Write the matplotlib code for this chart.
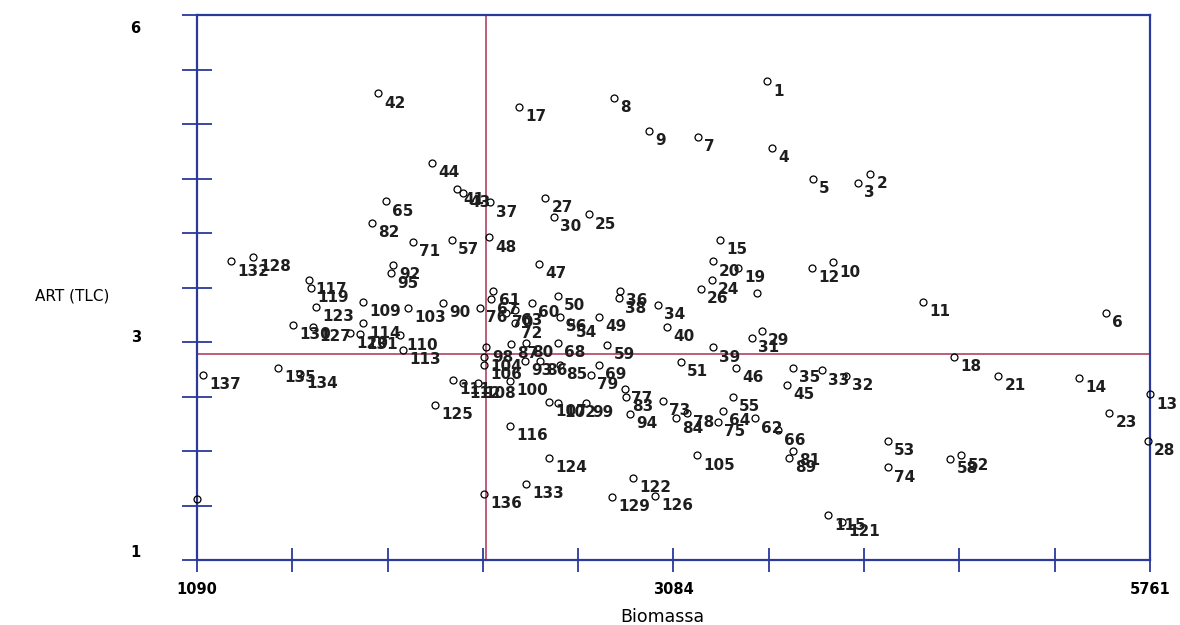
import numpy as np
import matplotlib.pyplot as plt
import matplotlib.transforms as mtransforms

# rótulos dos pontos e valores
rotulos = ['1', '2', '3', '4', '5', '6', '7', '8', '9', '10',
           '11', '12', '13', '14', '15', '17', '18', '19', '20', '21',
           '23', '24', '25', '26', '27', '28', '29', '30', '31', '32',
           '33', '34', '35', '36', '37', '38', '39', '40', '41', '42',
           '43', '44', '45', '46', '47', '48', '49', '50', '51', '52',
           '53', '54', '55', '56', '57', '58', '59', '60', '61', '62',
           '63', '64', '65', '66', '67', '68', '69', '70', '71', '72',
           '73', '74', '75', '76', '77', '78', '79', '80', '81', '82',
           '83', '84', '85', '86', '87', '89', '90', '92', '93', '94',
           '95', '98', '99', '100', '102', '103', '104', '105', '106', '107',
           '108', '109', '110', '111', '112', '113', '114', '115', '116', '117',
           '119', '120', '121', '122', '123', '124', '125', '126', '127', '128',
           '129', '130', '131', '132', '133', '134', '135', '136', '137', '',
           '']

biomassa = [3884, 4389, 4330, 3908, 4109, 5545, 3546, 3134, 3305, 4207,
            4648, 4104, 5761, 5413, 3653, 2668, 4800, 3742, 3619, 5016,
            5560, 3614, 3011, 3560, 2796, 5751, 3859, 2840, 3810, 4271,
            4153, 3350, 4011, 3163, 2526, 3158, 3619, 3394, 2364, 1977,
            2394, 2242, 3982, 3732, 2766, 2521, 3060, 2859, 3462, 4835,
            4477, 2918, 3717, 2869, 2340, 4781, 3100, 2732, 2541, 3825,
            2650, 3668, 2016, 3938, 2531, 2859, 3060, 2605, 2149, 2649,
            3374, 4477, 3644, 2477, 3188, 3492, 3021, 2703, 4011, 1948,
            3193, 3438, 2869, 2771, 2629, 3992, 2296, 2051, 2698, 3212,
            2041, 2507, 2997, 2624, 2859, 2124, 2497, 3541, 2497, 2815,
            2467, 1904, 2085, 2345, 2394, 2100, 1904, 4183, 2624, 1639,
            1649, 1840, 4251, 3227, 1673, 2815, 2257, 3335, 1659, 1364,
            3124, 1561, 1889, 1257, 2703, 1595, 1487, 2497, 1119, 3835,
            1090]

art = [5.39, 4.54, 4.46, 4.78, 4.50, 3.27, 4.88, 5.24, 4.94, 3.73,
       3.37, 3.68, 2.52, 2.67, 3.94, 5.16, 2.86, 3.68, 3.74, 2.69,
       2.35, 3.57, 4.17, 3.49, 4.32, 2.09, 3.10, 4.15, 3.04, 2.69,
       2.74, 3.34, 2.76, 3.47, 4.28, 3.40, 2.95, 3.14, 4.40, 5.28,
       4.37, 4.64, 2.61, 2.76, 3.72, 3.96, 3.23, 3.42, 2.82, 1.96,
       2.09, 3.18, 2.50, 3.23, 3.94, 1.93, 2.97, 3.36, 3.47, 2.30,
       3.29, 2.37, 4.29, 2.19, 3.39, 2.99, 2.79, 3.27, 3.92, 3.17,
       2.46, 1.85, 2.27, 3.31, 2.57, 2.35, 2.70, 2.99, 2.00, 4.09,
       2.50, 2.30, 2.79, 2.83, 2.98, 1.94, 3.36, 3.71, 2.83, 2.34,
       3.63, 2.95, 2.44, 2.64, 2.44, 3.31, 2.86, 1.96, 2.79, 2.45,
       2.62, 3.37, 3.06, 2.65, 2.62, 2.93, 3.17, 1.41, 2.23, 3.57,
       3.50, 3.08, 1.35, 1.75, 3.32, 1.94, 2.42, 1.59, 3.14, 3.78,
       1.58, 3.16, 3.07, 3.74, 1.70, 2.71, 2.76, 1.61, 2.70, 3.45,
       1.56]

x_min, x_max = 1090, 5761
x_rotulos = ['1090', '3084', '5761']
y_rotulos = ['1', '3', '6']
corte_x = 2509   # linha vertical vermelha
corte_y = 2.89   # linha horizontal vermelha

azul = '#2a3a9a'
vermelho = '#b8506c'

fig = plt.figure(figsize=(11.8, 6.25), dpi=100)
ax = fig.add_axes([0.1669, 0.104, 0.8077, 0.872])

ax.plot(biomassa, art, 'o', ms=5, mfc='none', mec='black', mew=0.9, clip_on=False, zorder=3)
for r, xv, yv in zip(rotulos, biomassa, art):
    if r:
        ax.annotate(r, (xv, yv), xytext=(4.5, -7), textcoords='offset points',
                    ha='left', va='center', fontsize=11, fontweight='bold',
                    color='#1e1e1e', annotation_clip=False)

ax.axvline(corte_x, color=vermelho, lw=1.3, zorder=1)
ax.axhline(corte_y, color=vermelho, lw=1.3, zorder=1)

ax.set_xlim(x_min, x_max)
ax.set_ylim(1, 6)
for s in ax.spines.values():
    s.set_color(azul)
    s.set_linewidth(1.6)

ax.set_xticks(np.linspace(x_min, x_max, 11))
ax.set_xticklabels([x_rotulos[0], '', '', '', '', x_rotulos[1], '', '', '', '', x_rotulos[2]])
ax.set_yticks(np.arange(1, 6.01, 0.5))
ax.set_yticklabels([y_rotulos[0], '', '', '', y_rotulos[1], '', '', '', '', '', y_rotulos[2]])
ax.tick_params(axis='x', direction='inout', length=17, width=1.3, color=azul, pad=7,
               labelsize=10.5)
ax.tick_params(axis='y', direction='inout', length=21, width=1.3, color=azul, pad=30,
               labelsize=10.5)
for t in ax.get_xticklabels() + ax.get_yticklabels():
    t.set_fontweight('bold')
ylabs = ax.get_yticklabels()
ylabs[0].set_va('bottom')
ylabs[4].set_va('baseline')
ylabs[10].set_va('top')
ylabs[10].set_transform(ylabs[10].get_transform()
                        + mtransforms.ScaledTranslation(0, -4 / 72, fig.dpi_scale_trans))

fig.text(72 / 1180, 1 - 296 / 625, 'ART (TLC)', ha='center', va='center', fontsize=11)
fig.text(662 / 1180, 1 - 617 / 625, 'Biomassa', ha='center', va='center', fontsize=12.5)

plt.savefig('out.png', dpi=100)
